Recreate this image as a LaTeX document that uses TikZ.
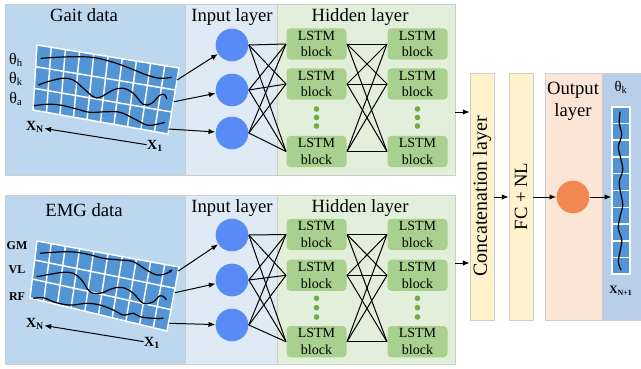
\documentclass[tikz,border=0pt]{standalone}
\usepackage{fontspec}
\setmainfont{Liberation Serif}
\usetikzlibrary{arrows.meta,calc}

\definecolor{databg}{RGB}{189,215,238}
\definecolor{inbg}{RGB}{222,235,247}
\definecolor{hidbg}{RGB}{226,239,218}
\definecolor{lstmgreen}{RGB}{169,208,142}
\definecolor{dotgreen}{RGB}{112,173,71}
\definecolor{neuronblue}{RGB}{88,139,246}
\definecolor{catbg}{RGB}{255,242,204}
\definecolor{outbg}{RGB}{251,229,214}
\definecolor{outorange}{RGB}{241,136,82}
\definecolor{cellblue}{RGB}{83,148,213}
\definecolor{colbg}{RGB}{184,205,232}
\definecolor{panelgray}{RGB}{205,205,205}

\tikzset{every picture/.style={line width=0.75pt}}
\tikzset{
  panel/.style={draw=panelgray, line width=0.6pt},
  titletext/.style={font=\fontsize{14}{16.5}\selectfont, anchor=base, inner sep=0pt},
  neuron/.style={circle, fill=neuronblue, minimum size=24.5pt, inner sep=0pt},
  lstmbox/.style={rounded corners=3pt, fill=lstmgreen, minimum width=45pt, minimum height=23.5pt, inner sep=0pt, align=center, font=\fontsize{10.5}{12.5}\selectfont},
  gdot/.style={circle, fill=dotgreen, minimum size=4.2pt, inner sep=0pt},
  gridline/.style={white, line width=1.1pt},
  wave/.style={line width=0.9pt},
  arr/.style={-{Latex[length=5pt,width=4pt]}},
  sigtext/.style={font=\fontsize{12}{14}\selectfont, inner sep=0pt},
  chtext/.style={font=\bfseries\fontsize{9}{11}\selectfont, inner sep=0pt},
  axtext/.style={font=\bfseries\fontsize{10.5}{12}\selectfont, inner sep=0pt},
}

\begin{document}
\begin{tikzpicture}[x=0.75pt,y=0.75pt,yscale=-1,xscale=1]
\useasboundingbox (0,0) rectangle (641,368);

%Shape: Rectangle (panels)
\draw[panel, fill=databg] (5,4) rectangle (185,175);
\draw[panel, fill=inbg] (185,4) rectangle (277,175);
\draw[panel, fill=hidbg] (277,4) rectangle (455,175);
\draw[panel, fill=databg] (5,195) rectangle (185,364);
\draw[panel, fill=inbg] (185,195) rectangle (277,364);
\draw[panel, fill=hidbg] (277,195) rectangle (455,364);
\draw[panel, fill=outbg] (545,73) rectangle (602,320);
\draw[panel, fill=colbg] (602,73) rectangle (642,320);

% Text Node
\node[titletext] (gaittitle) at (84,21) {Gait data};
\node[titletext] (in1title) at (232,21) {Input layer};
\node[titletext] (hid1title) at (360,21) {Hidden layer};
\node[titletext] (emgtitle) at (84,216) {EMG data};
\node[titletext] (in2title) at (232,212) {Input layer};
\node[titletext] (hid2title) at (360,212) {Hidden layer};

%Shape: Grid (gait data)
\coordinate (g1tl) at (37,45);
\coordinate (g1tr) at (179,68);
\coordinate (g1br) at (168,134);
\coordinate (g1bl) at (33,110);
\fill[cellblue] (g1tl) -- (g1tr) -- (g1br) -- (g1bl) -- cycle;
\foreach \k in {1,...,9} \draw[gridline] ($(g1tl)!\k/10!(g1tr)$) -- ($(g1bl)!\k/10!(g1br)$);
\foreach \k in {1,2} \draw[gridline] ($(g1tl)!\k/3!(g1bl)$) -- ($(g1tr)!\k/3!(g1br)$);
\draw[gridline] (g1tl) -- (g1tr) -- (g1br) -- (g1bl) -- cycle;

%Curve Lines
\draw[wave] plot[smooth, tension=0.6] coordinates {(40.7,58.3) (56.7,57.3) (76.7,56.7) (95,57.7) (113.3,62.3) (130,68.3) (146.7,75) (160,78.3) (171.7,77.3)};
\draw[wave] plot[smooth, tension=0.6] coordinates {(38.3,85) (50,81) (63.3,78.3) (73.3,80) (83.3,88.3) (93.3,96.7) (100,97.3) (113.3,90) (123.3,88.3) (133.3,93.3) (143.3,104.3) (151.7,103.3) (160,95) (165,95) (166.7,99)};
\draw[wave] plot[smooth, tension=0.6] coordinates {(34,105.7) (46.7,104.3) (60,105) (76.7,109) (90,112.3) (106.7,111.7) (120,112.3) (133.3,118.3) (146.7,125) (156.7,124.3) (165,122.3)};

% Text Node
\node[sigtext] (thh) at (16,60) {θ\textsubscript{h}};
\node[sigtext] (thk) at (16,79) {θ\textsubscript{k}};
\node[sigtext] (tha) at (16,99) {θ\textsubscript{a}};
\node[axtext] (xn1) at (35,127) {X\textsubscript{N}};
\node[axtext] (xone1) at (155,146) {X\textsubscript{1}};
\draw[arr] (xone1) -- (xn1);

%Shape: Grid (EMG data)
\coordinate (g2tl) at (37,241);
\coordinate (g2tr) at (179,267);
\coordinate (g2br) at (167,331);
\coordinate (g2bl) at (30,298);
\fill[cellblue] (g2tl) -- (g2tr) -- (g2br) -- (g2bl) -- cycle;
\foreach \k in {1,...,9} \draw[gridline] ($(g2tl)!\k/10!(g2tr)$) -- ($(g2bl)!\k/10!(g2br)$);
\foreach \k in {1,2} \draw[gridline] ($(g2tl)!\k/3!(g2bl)$) -- ($(g2tr)!\k/3!(g2br)$);
\draw[gridline] (g2tl) -- (g2tr) -- (g2br) -- (g2bl) -- cycle;

%Curve Lines
\draw[wave, -{Latex[length=3pt,width=2.5pt]}] plot[smooth, tension=0.6] coordinates {(40,253.3) (53.3,252.3) (70,251.7) (86.7,254) (103.3,258.3) (120,260) (133.3,261.7) (146.7,270) (156.7,275) (166.7,273.3) (172.7,269)};
\draw[wave] plot[smooth, tension=0.6] coordinates {(36.7,276.7) (50,274.3) (63.3,272.3) (73.3,273.3) (81.7,280) (90,291.7) (100,293.3) (113.3,288.3) (123.3,287.7) (133.3,293.3) (143.3,303.3) (153.3,301.7) (160,295.7) (165,297.7) (166,300)};
\draw[wave] plot[smooth, tension=0.6] coordinates {(33.3,298.3) (43.3,297.7) (53.3,301.7) (63.3,304.3) (73.3,305) (86.7,303.3) (100,305) (113.3,310) (123.3,315) (133.3,313.3) (140,316.7) (153.3,318.3) (163.3,318.3)};

% Text Node
\node[chtext] (gm) at (17,246) {GM};
\node[chtext] (vl) at (17,270) {VL};
\node[chtext] (rf) at (17,297) {RF};
\node[axtext] (xn2) at (35,324) {X\textsubscript{N}};
\node[axtext] (xone2) at (152,343) {X\textsubscript{1}};
\draw[arr] (xone2) -- (xn2);

% Input neurons
\node[neuron] (in1a) at (232,45) {};
\node[neuron] (in1b) at (232,90) {};
\node[neuron] (in1c) at (232,133) {};
\node[neuron] (in2a) at (232,235) {};
\node[neuron] (in2b) at (232,280) {};
\node[neuron] (in2c) at (232,325) {};

%Straight Lines (grid to input)
\coordinate (g1o1) at (177,80);
\coordinate (g1o2) at (174,101.7);
\coordinate (g1o3) at (168.3,129);
\coordinate (g2o1) at (178.3,271);
\coordinate (g2o2) at (175,292.7);
\coordinate (g2o3) at (169.3,323.3);
\draw[arr] (g1o1) -- (in1a);
\draw[arr] (g1o2) -- (in1b);
\draw[arr] (g1o3) -- (in1c);
\draw[arr] (g2o1) -- (in2a);
\draw[arr] (g2o2) -- (in2b);
\draw[arr] (g2o3) -- (in2c);

% LSTM blocks
\foreach \r/\ya/\yb in {a/44/234.5, b/84/275.3, c/151.5/341.7} {
  \node[lstmbox] (h1\r1) at (316.5,\ya) {LSTM\\block};
  \node[lstmbox] (h1\r2) at (417.5,\ya) {LSTM\\block};
  \node[lstmbox] (h2\r1) at (316.5,\yb) {LSTM\\block};
  \node[lstmbox] (h2\r2) at (417.5,\yb) {LSTM\\block};
}
\foreach \ya/\yb [count=\n] in {109/298.3, 117.5/307.7, 126/317} {
  \node[gdot] (dot1l\n) at (316.5,\ya) {};
  \node[gdot] (dot1r\n) at (417.5,\ya) {};
  \node[gdot] (dot2l\n) at (316.5,\yb) {};
  \node[gdot] (dot2r\n) at (417.5,\yb) {};
}

%Straight Lines (full links)
\foreach \i in {a,b,c} \foreach \j in {a,b,c} {
  \draw (in1\i.east) -- (h1\j1.west);
  \draw (h1\i1.east) -- (h1\j2.west);
  \draw (in2\i.east) -- (h2\j1.west);
  \draw (h2\i1.east) -- (h2\j2.west);
}

% Concatenation and FC
\node[panel, fill=catbg, minimum width=18pt, minimum height=185.25pt, inner sep=0pt] (concat) at (482,196.5) {};
\node[panel, fill=catbg, minimum width=18pt, minimum height=185.25pt, inner sep=0pt] (fc) at (521,196.5) {};
\node[rotate=90, font=\fontsize{15}{17}\selectfont, inner sep=0pt] (concattext) at (concat.center) {Concatenation layer};
\node[rotate=90, font=\fontsize{14}{16}\selectfont, inner sep=0pt] (fctext) at (fc.center) {FC + NL};

% Output
\node[font=\fontsize{14}{16.5}\selectfont, align=center, inner sep=0pt] (outtext) at (573,101) {Output\\layer};
\node[circle, fill=outorange, minimum size=24.5pt, inner sep=0pt] (outc) at (573,197) {};
\node[draw=white, line width=1.1pt, fill=cellblue, minimum width=13.5pt, minimum height=125pt, inner sep=0pt] (outcol) at (621,190.5) {};
\foreach \k in {1,...,9} \draw[gridline] ($(outcol.north west)!\k/10!(outcol.south west)$) -- ($(outcol.north east)!\k/10!(outcol.south east)$);
\draw[wave] plot[smooth, tension=0.6] coordinates {(620,111.7) (619.3,123.3) (621.7,135) (618.3,146.7) (620.7,158.3) (622.7,170) (619.3,181.7) (620.7,193.3) (622.7,205) (620,216.7) (618.3,228.3) (621.7,240) (620,251.7) (618.3,261.7) (621,270)};
\node[font=\fontsize{11}{13}\selectfont, inner sep=0pt] (thkout) at (621,87) {θ\textsubscript{k}};
\node[font=\bfseries\fontsize{8.5}{10}\selectfont, inner sep=0pt] (xnext) at (621,291) {X\textsubscript{N+1}};

%Straight Lines (arrows)
\coordinate (hid1out) at (455,112);
\coordinate (hid2out) at (455,263);
\draw[arr] (hid1out) -- (hid1out -| concat.west);
\draw[arr] (hid2out) -- (hid2out -| concat.west);
\draw[arr] (concat.east |- outc) -- (fc.west |- outc);
\draw[arr] (fc.east |- outc) -- (outc);
\draw[arr] (outc) -- (outc -| outcol.west);

\end{tikzpicture}
\end{document}
